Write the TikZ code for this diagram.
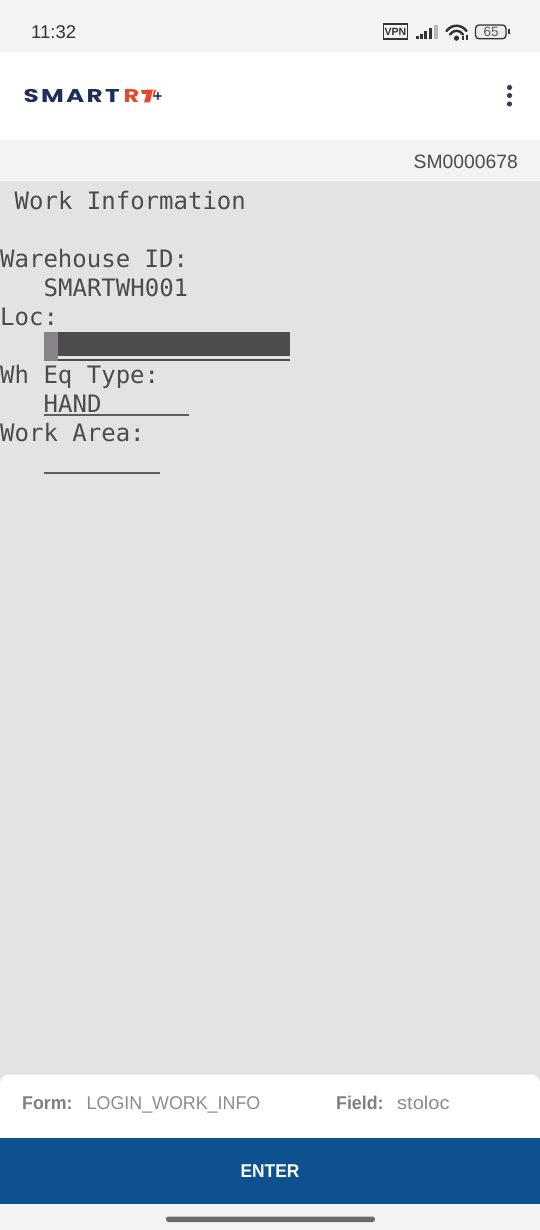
\documentclass[tikz,border=0pt]{standalone}
\usepackage{fontspec}
\setmainfont{Liberation Sans}
\newfontfamily\termfont{DejaVu Sans Mono}
\newfontfamily\logofont[LetterSpace=9]{Poppins}
\definecolor{barbg}{HTML}{F3F3F3}
\definecolor{termbg}{HTML}{E3E3E3}
\definecolor{termfg}{HTML}{4D4B4D}
\definecolor{curs}{HTML}{858585}
\definecolor{navy}{HTML}{1F2F5C}
\definecolor{rust}{HTML}{E5492A}
\definecolor{btn}{HTML}{0E5190}
\definecolor{labelgray}{HTML}{7F7F7F}
\definecolor{valgray}{HTML}{8C8C8C}
\definecolor{icon}{HTML}{333333}
\tikzset{
  term/.style={font=\termfont\fontsize{24}{24}\selectfont,text=termfg,anchor=base west,inner sep=0pt},
  uline/.style={draw=termfg!90,line width=1.6pt},
  foot/.style={font=\fontsize{18.5}{20}\selectfont,anchor=base west,inner sep=0pt},
  footb/.style={font=\bfseries\fontsize{18.5}{20}\selectfont,anchor=base west,inner sep=0pt,text=labelgray},
  logotext/.style={anchor=base west,inner sep=0pt,font=\logofont\bfseries\fontsize{18.5}{19}\selectfont},
}
\begin{document}
\begin{tikzpicture}[x=1pt,y=-1pt]
\useasboundingbox (0,0) rectangle (540,1230);
\fill[barbg] (0,0) rectangle (540,1230);
% header
\fill[white] (0,52) rectangle (540,140);
\fill[termbg] (0,181) rectangle (540,1090);
% status bar
\node[anchor=base west,inner sep=0pt,text=icon,font=\fontsize{18.5}{20}\selectfont] (clock) at (31,39) {11:32};
\node[draw=icon,line width=1.8pt,minimum width=24pt,minimum height=14.5pt,inner sep=0pt,font=\fontsize{10.5}{11}\bfseries\selectfont,text=icon] (vpn) at (395.5,31.5) {VPN};
\fill[icon] (416,36) rectangle (418.5,39);
\fill[icon] (420,34) rectangle (422.5,39);
\fill[icon] (424,31) rectangle (427,39);
\fill[icon] (428.5,28.5) rectangle (432,39);
\fill[black!28] (433.5,25) rectangle (437.5,39);
\draw[icon,line width=2.5pt,line cap=round] (446.5,31) .. controls (451.5,24) and (461.5,24) .. (466.5,31);
\draw[icon,line width=2.4pt,line cap=round] (450,34.5) .. controls (453.5,29.5) and (459.5,29.5) .. (463,34.5);
\fill[icon] (456.5,38.2) circle (2.6);
\fill[icon] (462,36.5) rectangle (464,40);
\fill[icon] (465.5,35) rectangle (467.5,40);
\draw[icon,line width=1.3pt,fill=black!7,rounded corners=3.5pt] (475.5,25) rectangle (506,38.8);
\fill[icon] (507.8,29) rectangle (509.8,34.5);
\node[inner sep=0pt,text=black!65,font=\fontsize{13.5}{14}\selectfont] (batt) at (491,32.2) {65};
% logo
\node[logotext,text=navy] (logoa) at (23.5,102.5) {\scalebox{1.34}[1]{SMART}};
\node[logotext,text=rust] (logob) at (123.5,102.5) {\scalebox{1.3}[1]{R}};
\fill[rust] (141,90) -- (153,89.5) -- (152,93) -- (150,102.5) -- (144,102.5) -- (146.5,94) -- (142,94) -- cycle;
\fill[rust] (154,90) -- (156,90) -- (154,97) -- (152.5,97) -- cycle;
\node[inner sep=0pt,font=\bfseries\fontsize{15}{15}\selectfont,text=navy] (plus) at (158,97) {+};
% menu dots
\foreach \yy in {87.5,95.5,104}{\fill[navy!60!black!85] (509.5,\yy) circle (2.6);}
% id
\node[anchor=base east,inner sep=0pt,text=termfg,font=\fontsize{19.3}{20}\selectfont] (sm) at (518,168.5) {SM0000678};
% terminal
\node[term] (t1) at (14.5,209.5) {Work Information};
\node[term] (t2) at (0,267.5) {Warehouse ID:};
\node[term] (t3) at (43.5,296.5) {SMARTWH001};
\node[term] (t4) at (0,325.5) {Loc:};
\node[term] (t5) at (0,383.5) {Wh Eq Type:};
\node[term] (t6) at (43.5,412.5) {HAND};
\node[term] (t7) at (0,441.5) {Work Area:};
\fill[curs] (44,332) rectangle (58,361);
\fill[termfg] (58,332) rectangle (290,356);
\fill[termfg] (58,358.5) rectangle (290,361);
\draw[uline] (44,415) -- (188.5,415);
\draw[uline] (44,473) -- (159.5,473);
% footer
\fill[white,rounded corners=9pt] (0,1074.5) rectangle (540,1150);
\fill[btn] (0,1138) rectangle (540,1204);
\node[footb] (f1) at (22,1109) {\scalebox{.96}[1]{Form:}};
\node[foot,text=valgray] (f2) at (86.5,1109) {\scalebox{.965}[1]{LOGIN\_WORK\_INFO}};
\node[footb] (f3) at (336,1109) {\scalebox{.96}[1]{Field:}};
\node[foot,text=valgray] (f4) at (397,1109) {\scalebox{1.085}[1]{stoloc}};
\node[inner sep=0pt,text=white,font=\bfseries\fontsize{18.5}{20}\selectfont] (enter) at (270,1171.5) {\scalebox{.94}[1]{ENTER}};
\fill[black!58,rounded corners=2.5pt] (166,1216.5) rectangle (375,1222);
\end{tikzpicture}
\end{document}
